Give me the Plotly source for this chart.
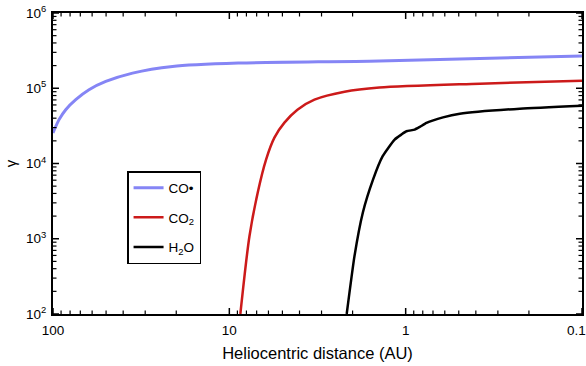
import plotly.graph_objects as go

# CO (radical) series
co_dist = [100, 92.4, 84.7, 74.3, 62.5, 50.2, 35.4, 21.0, 8.77, 1.41, 0.1]
co_gamma = [2.55e4, 3.83e4, 5.19e4, 7.05e4, 9.55e4, 1.23e5, 1.59e5, 1.95e5, 2.16e5, 2.31e5, 2.69e5]

# CO2 series
co2_dist = [8.66, 7.69, 6.90, 6.19, 5.55, 4.87, 4.11, 3.29, 2.22, 1.41, 0.38, 0.1]
co2_gamma = [100, 1080, 4130, 1.13e4, 2.21e4, 3.49e4, 5.19e4, 7.05e4, 9.0e4, 1.02e5, 1.15e5, 1.26e5]

# H2O series
h2o_dist = [2.16, 1.95, 1.75, 1.53, 1.35, 1.155, 1.059, 0.99, 0.889, 0.832, 0.762, 0.614, 0.493, 0.225, 0.1]
h2o_gamma = [100, 592, 2220, 6140, 1.25e4, 2.08e4, 2.42e4, 2.68e4, 2.82e4, 3.06e4, 3.46e4, 4.10e4, 4.59e4, 5.35e4, 5.86e4]

x_major = [100, 10, 1, 0.1]
x_major_text = ["100", "10", "1", "0.1\u00a0\u00a0\u00a0"]
y_major = [1e2, 1e3, 1e4, 1e5, 1e6]
y_major_text = ["10<sup>2</sup>", "10<sup>3</sup>", "10<sup>4</sup>", "10<sup>5</sup>", "10<sup>6</sup>"]

x_minor = [m * 10 ** e for e in (-1, 0, 1) for m in range(2, 10)]
y_minor = [m * 10 ** e for e in (2, 3, 4, 5) for m in range(2, 10)]

FONT = "Liberation Sans, Arial, Helvetica, sans-serif"

fig = go.Figure()
fig.add_trace(go.Scatter(x=co_dist, y=co_gamma, mode="lines", name="CO•", legendgroup="a",
                         line=dict(color="#8585f5", width=3, shape="spline", smoothing=0.8)))
fig.add_trace(go.Scatter(x=co2_dist, y=co2_gamma, mode="lines", name="CO<sub>2</sub>", legendgroup="b",
                         line=dict(color="#cc1a1a", width=2.5, shape="spline", smoothing=0.8)))
fig.add_trace(go.Scatter(x=h2o_dist, y=h2o_gamma, mode="lines", name="H<sub>2</sub>O", legendgroup="c",
                         line=dict(color="#000000", width=2.5, shape="spline", smoothing=0.5)))

# inward tick marks on all four sides, placed through the axes (data value + pixel length)
def x_tick(val, length, width):
    out = []
    for anchor, sign in ((0, 1), (1, -1)):
        out.append(dict(type="line", xref="x", yref="y domain", x0=val, x1=val,
                        ysizemode="pixel", yanchor=anchor, y0=0, y1=sign * length,
                        line=dict(color="black", width=width), layer="above"))
    return out

def y_tick(val, length, width):
    out = []
    for anchor, sign in ((0, 1), (1, -1)):
        out.append(dict(type="line", xref="x domain", yref="y", y0=val, y1=val,
                        xsizemode="pixel", xanchor=anchor, x0=0, x1=sign * length,
                        line=dict(color="black", width=width), layer="above"))
    return out

shapes = []
for v in x_major:
    shapes += x_tick(v, 6, 1.5)
for v in x_minor:
    shapes += x_tick(v, 3.5, 1.2)
for v in y_major:
    shapes += y_tick(v, 6, 1.5)
for v in y_minor:
    shapes += y_tick(v, 3.5, 1.2)

axis_common = dict(type="log", showgrid=False, zeroline=False, automargin=False,
                   showline=True, linecolor="black", linewidth=2, mirror=True,
                   ticks="", tickfont=dict(size=13.5))

fig.update_layout(
    width=586, height=366,
    margin=dict(l=53, r=4, t=13, b=52),
    paper_bgcolor="white", plot_bgcolor="white",
    font=dict(family=FONT, size=13, color="black"),
    showlegend=True,
    legend=dict(x=0.140, y=0.475, xanchor="left", yanchor="top",
                bordercolor="black", borderwidth=1.5, bgcolor="white",
                font=dict(size=13.5, family=FONT), itemwidth=30, tracegroupgap=9),
    shapes=shapes,
    xaxis=dict(**axis_common, range=[2, -1],
               tickvals=x_major, ticktext=x_major_text, ticklabeloverflow="allow",
               ticklabelstandoff=3,
               title=dict(text="Heliocentric distance (AU)", font=dict(size=16.5), standoff=10)),
    yaxis=dict(**axis_common, range=[2, 6],
               tickvals=y_major, ticktext=y_major_text, ticklabelstandoff=2,
               title=dict(text="γ", font=dict(size=15), standoff=6)),
)

fig.write_html("out.html")
